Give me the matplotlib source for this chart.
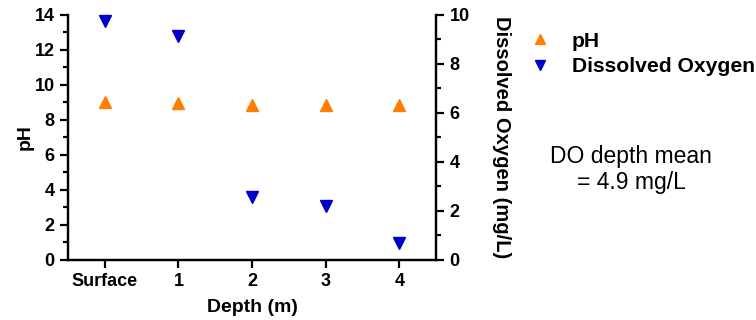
import matplotlib.pyplot as plt
from matplotlib.lines import Line2D
from matplotlib.ticker import MultipleLocator

plt.rcParams['font.family'] = ['Liberation Sans', 'DejaVu Sans']

depths = ['Surface', '1', '2', '3', '4']
ph = [9.0, 8.95, 8.85, 8.85, 8.85]
do = [9.73, 9.14, 2.58, 2.2, 0.68]

orange = '#FF8000'
blue = '#0000C8'

fig = plt.figure(figsize=(7.56, 3.2), dpi=100)
ax = fig.add_axes([0.09, 0.1875, 0.487, 0.766])
ax2 = ax.twinx()

x = range(len(depths))
ax.plot(x, ph, linestyle='none', marker='^', color=orange, markersize=9, clip_on=False)
ax2.plot(x, do, linestyle='none', marker='v', color=blue, markersize=9, clip_on=False)

ax.set_xlim(-0.5, 4.5)
ax.set_ylim(0, 14)
ax2.set_ylim(0, 10)
ax.set_xticks(list(x))
ax.set_xticklabels(depths)
ax.yaxis.set_major_locator(MultipleLocator(2))
ax.yaxis.set_minor_locator(MultipleLocator(1))
ax2.yaxis.set_major_locator(MultipleLocator(2))
ax2.yaxis.set_minor_locator(MultipleLocator(1))

for a in (ax, ax2):
    a.spines['top'].set_visible(False)
    for s in a.spines.values():
        s.set_linewidth(1.6)
    a.tick_params(which='major', length=6, width=1.6, labelsize=13)
    a.tick_params(which='minor', length=3.5, width=1.6)
    for lab in a.get_xticklabels() + a.get_yticklabels():
        lab.set_fontweight('bold')

ax.set_xlabel('Depth (m)', fontsize=14, fontweight='bold', labelpad=6)
ax.set_ylabel('pH', fontsize=14, fontweight='bold', labelpad=1)
ax2.set_ylabel('Dissolved Oxygen (mg/L)', fontsize=14.5, fontweight='bold',
               rotation=270, labelpad=30)

handles = [
    Line2D([], [], linestyle='none', marker='^', color=orange, markersize=7),
    Line2D([], [], linestyle='none', marker='v', color=blue, markersize=7),
]
leg = fig.legend(handles, ['pH', 'Dissolved Oxygen'], loc='upper left',
                 bbox_to_anchor=(0.675, 0.96), frameon=False,
                 handlelength=1.0, handletextpad=1.0, labelspacing=0.3,
                 prop={'size': 15.2, 'weight': 'bold'})

fig.text(0.835, 0.47, 'DO depth mean\n= 4.9 mg/L', fontsize=16.5,
         ha='center', va='center', linespacing=1.15)

fig.savefig('out.png', dpi=100)
